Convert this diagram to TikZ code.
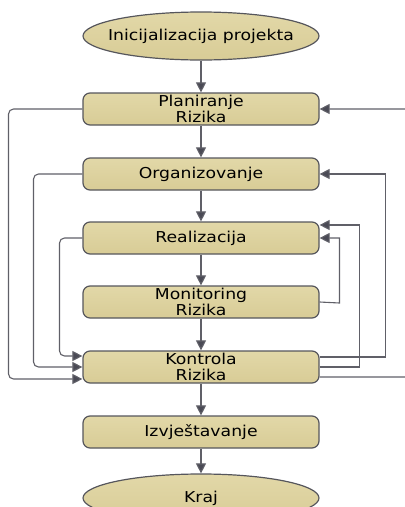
\documentclass[tikz,border=0pt]{standalone}
\usepackage{fontspec}
\setmainfont{DejaVu Sans}[FakeStretch=1.15]
\usetikzlibrary{arrows.meta,shapes.geometric}
\definecolor{boxtop}{HTML}{E2D8A8}
\definecolor{boxbot}{HTML}{D8CC96}
\definecolor{boxline}{HTML}{56565C}
\definecolor{wire}{HTML}{606068}
\definecolor{tip}{HTML}{4A4A55}
\tikzset{
  stepbox/.style={rectangle, rounded corners=7pt, draw=boxline, line width=1.2pt,
    top color=boxtop, bottom color=boxbot, minimum width=236pt, minimum height=32pt,
    inner sep=0pt, align=center, font=\fontsize{15}{16.5}\selectfont},
  terminal/.style={ellipse, draw=boxline, line width=1.2pt,
    top color=boxtop, bottom color=boxbot, minimum width=236pt, minimum height=48pt,
    inner sep=0pt, align=center, font=\fontsize{15}{16.5}\selectfont},
  flow/.style={draw=wire, line width=1.1pt, -{Triangle[length=10pt,width=10pt,fill=tip]}},
  loop/.style={flow, rounded corners=5pt}
}
\begin{document}
\begin{tikzpicture}[x=1pt, y=-1pt]
  \clip (0,0) rectangle (405,507);

  % main sequence (ellipse labels kept out of the shape's size computation)
  \node[terminal] (init) at (201,36) {\makebox[0pt]{Inicijalizacija projekta}};
  \node[stepbox]  (plan) at (201,109) {Planiranje\\Rizika};
  \node[stepbox]  (org)  at (201,174) {Organizovanje};
  \node[stepbox]  (real) at (201,238) {Realizacija};
  \node[stepbox]  (mon)  at (201,302) {Monitoring\\Rizika};
  \node[stepbox]  (kon)  at (201,367) {Kontrola\\Rizika};
  \node[stepbox]  (izv)  at (201,432) {Izvještavanje};
  \node[terminal] (kraj) at (201,498) {\makebox[0pt]{Kraj}};

  \draw[flow] (init) -- (plan);
  \draw[flow] (plan) -- (org);
  \draw[flow] (org)  -- (real);
  \draw[flow] (real) -- (mon);
  \draw[flow] (mon)  -- (kon);
  \draw[flow] (kon)  -- (izv);
  \draw[flow] (izv)  -- (kraj);

  % feedback from each step into risk control (left side)
  \draw[loop] (plan.west) -- (8.5,109) -- (8.5,379) -- ([yshift=-12pt]kon.west);
  \draw[loop] (org.west)  -- (33.5,174) -- (33.5,367) -- (kon.west);
  \draw[loop] (real.west) -- (59.5,238) -- (59.5,356) -- ([yshift=11pt]kon.west);

  % feedback from control and monitoring back up (right side)
  \draw[flow] ([yshift=10pt]kon.east) -- (385.5,357) -- (385.5,174) -- (org.east);
  \draw[flow] (kon.east) -- (359.5,367) -- (359.5,225) -- ([yshift=13pt]real.east);
  \draw[flow] (mon.east) -- (339.5,303) -- (339.5,238) -- (real.east);
  \draw[loop] ([yshift=-10pt]kon.east) -- (412,377) -- (412,109) -- (plan.east);
\end{tikzpicture}
\end{document}
